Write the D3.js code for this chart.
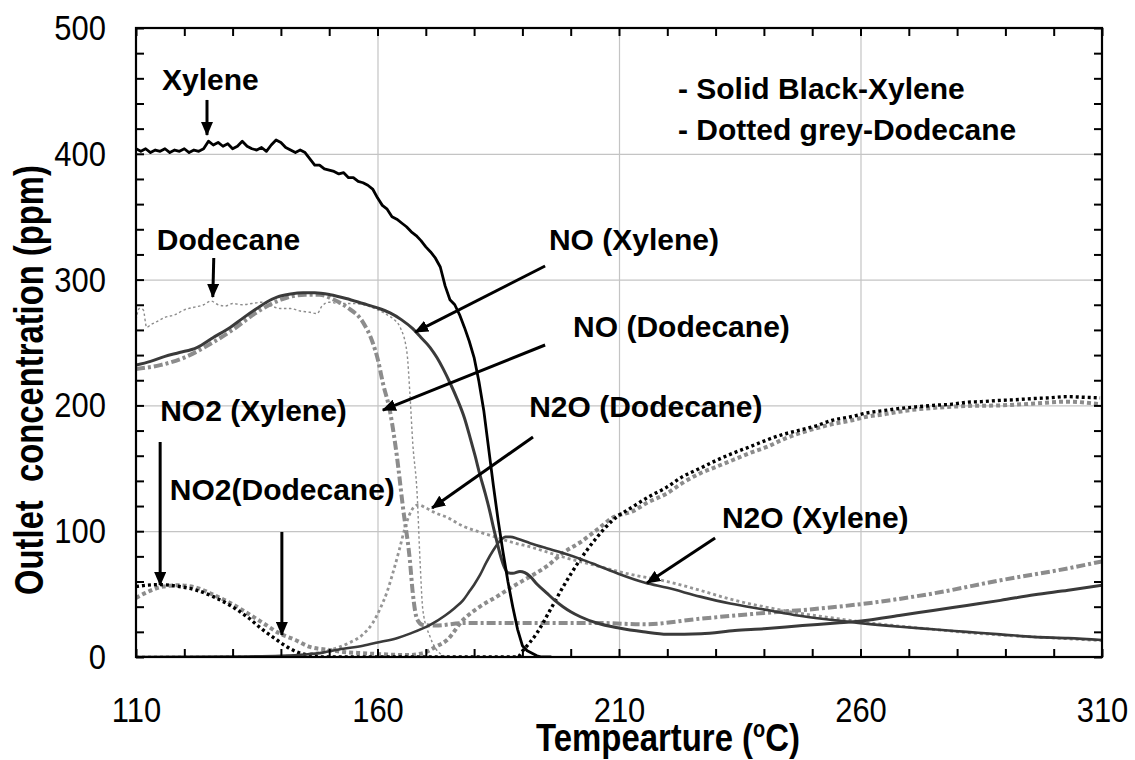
<!DOCTYPE html>
<html>
<head>
<meta charset="utf-8">
<script src="https://cdn.jsdelivr.net/npm/d3@7"></script>
<style>
  body { margin: 0; background: #fff; }
  svg { display: block; }
  .narrow { font-family: "Liberation Sans Narrow", "Arial Narrow", "Liberation Sans", Arial, sans-serif; }
  .bold { font-family: "Liberation Sans", Arial, sans-serif; font-weight: bold; }
</style>
</head>
<body>
<svg id="chart" width="1135" height="760"></svg>
<script>
// ---- axis ticks ----
const temperatureTicks = [110, 160, 210, 260, 310];
const concentrationTicks = [0, 100, 200, 300, 400, 500];
const temperatureGrid = [160, 210, 260];
const concentrationGrid = [100, 200, 300, 400];

// ---- series: [temperature (°C), concentration (ppm)] ----
// Xylene feed (dark lines)
const hcXylene = [[110,404],[111,402],[112,404],[113,401],[114,403],[115,402],[116,404],[117,401],[118,403],[119,402],[120,404],[121,401],[122,403],[123,402],[124,404],[125,410],[126,407],[127,409],[128,406],[129,408],[130,404],[131,406],[132,410],[133,406],[134,404],[135,403],[136,405],[137,402],[138,407],[139,411],[140,409],[141,405],[142,403],[143,401],[144,403],[145,401],[146,396],[147,391],[148,391],[149,388],[150,387],[151,386],[152,384],[153,385],[154,381],[155,381],[156,378],[157,377],[158,375],[159,372],[160,365],[161,359],[162,356],[163,350],[164,348],[165,345],[166,342],[167,338],[168,335],[169,331],[170,326],[171,322],[172,317],[173,310],[174,295],[175,284],[176,280],[177,272],[178,262],[179,251],[180,238],[181,219],[182,196],[183,166],[184,136],[185,108],[186,83],[187,60],[188,40],[189,22],[190,9],[191,5],[192,3],[193,1],[194,0],[196,0]];
const noXylene = [[110,232],[113,235],[116,239],[119,242],[122.6,246],[126,254],[129.5,262],[132,269],[135,277],[137,282],[139.2,286],[142,288.5],[144.6,289.5],[147,289.5],[150.2,288],[153.5,285],[157,281],[160,277.5],[162.6,273.5],[165,268],[167.3,261],[169,254],[170.9,246],[172.3,238],[173.6,229],[175,218],[176.5,205],[178,190],[179.2,174],[180.2,160],[181.2,145],[182.3,130],[183.3,115],[184,103],[184.7,92],[185.5,80],[186.3,71],[187,67],[188,66.5],[189.5,68],[190.5,67],[191.6,64],[193,58],[195,51],[196.7,45],[198.4,40],[200,36],[202,32],[205.4,27],[210,23],[215,20],[220,18],[227,18.5],[234,21],[240,22.5],[248,25],[255,27],[261,29],[268,33],[275,37],[282,41],[289,45],[296,49.5],[303,53],[310,57]];
const n2oXylene = [[110,0],[130,0.3],[140,1],[145,2],[148.7,3.5],[152,6],[157,9],[160,11.5],[164,15],[167,19],[170.9,25.5],[174,33],[176,39],[177.7,45],[179,52],[180,57.5],[181.2,65],[182.5,75],[184,85],[185.4,92.5],[186.5,95.5],[187.5,95.5],[189,94],[191.6,90.5],[195,86.5],[198.4,82.7],[202,78],[205.4,73],[210,66],[215.4,59],[220,55],[226.8,48],[233,42.5],[240.6,37.4],[247,33],[254.3,29.4],[261,26.5],[268.2,24],[275,22],[282,20],[289,18],[295.7,16],[303,15],[310,13.5]];
const no2Xylene = [[110,56],[112,57],[115,57.5],[119,56],[122.6,53],[126,48],[129.5,41],[133,32],[136.3,21.5],[139.2,13.5],[141.3,8],[143.3,4],[146.6,1],[149,0],[189,0],[190.1,5],[193,19],[195.7,37],[198.4,55.6],[201.9,77],[205.4,95],[208.8,109],[212.9,119.5],[216,127],[219.9,135],[223,143],[226.8,150],[230,156],[233.6,162],[237,167],[240.6,172.5],[244,177],[247.5,180.4],[251,184],[254,188],[258,191],[261.3,194],[265,196],[268,197.5],[272,199],[275,200],[279,201],[282,202.5],[285,203],[288.9,204],[292,204.5],[296,205.5],[299,206],[302.8,207],[306,206.5],[309.6,206]];

// Dodecane feed (grey lines)
const hcDodecane = [[110,268],[110.7,277],[111.5,276],[112.2,262],[113,264],[114.5,267],[116,270],[118,272],[120,276],[122,278],[124,280],[125.5,283],[127,280],[128.5,279],[130,281],[132,280],[134,281],[136,282],[138,279],[140,277],[142,277],[144,275],[146,274],[147.5,273],[148.5,279],[150,282],[152,281],[155,281],[158,279],[160,276],[162,272],[163.5,268],[164.7,262],[166.1,242],[166.7,210],[167.3,170],[168.2,130],[168.8,77],[169.4,37],[170.9,16],[172.9,3],[175,0],[200,0]];
const noDodecane = [[110,229],[115,232],[120,238],[125,248],[130,260],[135,274],[140,284],[145,288],[148,288],[151,284],[153.7,278],[157,266],[159,250],[160.1,236],[161.1,218],[162.6,195],[164,160],[165.3,118],[166.7,77],[167.3,51],[168.2,30],[169.4,25.5],[172,25],[178,27],[190,27],[200,27],[206,27],[215,26],[227,30.5],[240,35],[250,38],[260,42],[275,50.5],[289,61],[303,70.5],[310,76]];
const n2oDodecane = [[110,0],[140,0.5],[145,2],[150.2,5.6],[154,11],[157,18],[159,27],[160.5,38],[162,52],[163.2,67],[164.5,85],[165.5,100],[166.5,112],[167.5,119],[168.5,121],[170,118.5],[172,114.5],[174.4,111],[177.7,104],[180.6,100],[184.7,95],[188,91],[191.6,87.5],[198.4,79.5],[205.4,72.5],[212,66],[220,60],[226.8,53],[233,46],[240.6,39.5],[247,35],[254.3,31],[261,27.5],[268.2,24.5],[275,22],[282,19.5],[289,17.5],[295.7,16],[303,14.5],[310,13]];
const no2Dodecane = [[110,47],[112,51],[115.6,56],[119,57],[122.6,55],[126,49.5],[129.5,43],[133,35],[136.3,27],[139.6,19],[143,13.5],[146,8],[150,5.6],[153,4],[157,3],[162,2],[166,1.5],[169.4,3],[172,8],[174.4,13.5],[177.7,29.4],[181.2,40],[184.7,48],[188,56],[191.6,64],[195,72],[198.4,82.7],[201.9,91],[205.4,101],[208.8,111],[212.9,116],[216,123],[219.9,130],[223,138],[226.8,146],[230,151],[233.6,156.6],[237,162],[240.6,167],[244,173],[247.5,178],[251,182],[254,185],[258,188],[261.3,191],[265,193],[268,195],[272,197],[275,198],[282,199.5],[288.9,200],[296,201.5],[302.8,203],[309.6,201]];

// ---- annotations, in data units ----
const labelTexts = ["Xylene", "Dodecane", "NO2 (Xylene)", "NO2(Dodecane)", "NO (Xylene)", "NO (Dodecane)", "N2O (Dodecane)", "N2O (Xylene)"];
const labelAnchors = [[115.4,450.7],[114.3,323.5],[115,187.6],[117,124.8],[195.5,323.5],[200.5,254.4],[191.4,190.8],[231.3,102.5]];
const arrowStarts = [[124.7,442.8],[126.1,317.2],[194.7,310.8],[194.7,248],[192.2,174.9],[115,170.9],[140.2,99.4],[229.9,94.6]];
const arrowEnds   = [[124.7,415],[125.9,286.2],[167.8,258.3],[161.1,196.3],[171.3,118.4],[115,57.2],[140.2,17.5],[215.8,58.8]];
const noteLines = ["- Solid Black-Xylene", "- Dotted grey-Dodecane"];
const noteAnchors = [[222.2,443.6],[222.2,411]];

// ---- layout ----
const margin = { left: 136, top: 28, right: 1102, bottom: 657 };
const svg = d3.select("#chart");
const x = d3.scaleLinear().domain([110, 310]).range([margin.left, margin.right]);
const y = d3.scaleLinear().domain([0, 500]).range([margin.bottom, margin.top]);
const plotW = margin.right - margin.left;
const plotH = margin.bottom - margin.top;
const condense = 0.86;   // horizontal squeeze for the narrow axis lettering

svg.append("rect").attr("width", 1135).attr("height", 760).attr("fill", "#fff");

// gridlines
const grid = svg.append("g");
grid.append("g")
  .attr("transform", `translate(0,${margin.bottom})`)
  .call(d3.axisBottom(x).tickValues(temperatureGrid).tickSize(-plotH).tickFormat(""))
  .call(g => g.select(".domain").remove())
  .call(g => g.selectAll("line").attr("stroke", "#c4c4c4").attr("stroke-width", 1.2));
grid.append("g")
  .attr("transform", `translate(${margin.left},0)`)
  .call(d3.axisLeft(y).tickValues(concentrationGrid).tickSize(-plotW).tickFormat(""))
  .call(g => g.select(".domain").remove())
  .call(g => g.selectAll("line").attr("stroke", "#c4c4c4").attr("stroke-width", 1.2));

// clip for the series
svg.append("defs").append("clipPath").attr("id", "plotClip")
  .append("rect").attr("x", margin.left).attr("y", margin.top).attr("width", plotW).attr("height", plotH);

const smooth = d3.line().x(d => x(d[0])).y(d => y(d[1])).curve(d3.curveMonotoneX);
const jagged = d3.line().x(d => x(d[0])).y(d => y(d[1]));

const series = [
  { data: hcDodecane,  path: smooth, stroke: "#8c8c8c", width: 1.4, dash: "2.5,2.5" },
  { data: no2Dodecane, path: smooth, stroke: "#8c8c8c", width: 4,   dash: "4,3" },
  { data: n2oDodecane, path: smooth, stroke: "#959595", width: 2.8, dash: "3,3" },
  { data: noDodecane,  path: smooth, stroke: "#8c8c8c", width: 4,   dash: "9,3,3,3" },
  { data: no2Xylene,   path: smooth, stroke: "#000",    width: 3.4, dash: "3,3" },
  { data: n2oXylene,   path: smooth, stroke: "#3a3a3a", width: 2.6, dash: null },
  { data: noXylene,    path: smooth, stroke: "#3a3a3a", width: 3,   dash: null },
  { data: hcXylene,    path: jagged, stroke: "#000",    width: 2.8, dash: null }
];

const lines = svg.append("g").attr("clip-path", "url(#plotClip)");
series.forEach(s => {
  lines.append("path")
    .attr("d", s.path(s.data))
    .attr("fill", "none")
    .attr("stroke", s.stroke)
    .attr("stroke-width", s.width)
    .attr("stroke-linejoin", "round")
    .attr("stroke-dasharray", s.dash);
});

// frame with inward minor ticks on all four sides
const minorX = d3.range(110, 311, 10);
const minorY = d3.range(0, 501, 20);
const styleTicks = g => {
  g.select(".domain").remove();
  g.selectAll("line").attr("stroke", "#000").attr("stroke-width", 2);
};
svg.append("g").attr("transform", `translate(0,${margin.bottom})`)
  .call(d3.axisBottom(x).tickValues(minorX).tickSize(-8).tickFormat("")).call(styleTicks);
svg.append("g").attr("transform", `translate(0,${margin.top})`)
  .call(d3.axisTop(x).tickValues(minorX).tickSize(-8).tickFormat("")).call(styleTicks);
svg.append("g").attr("transform", `translate(${margin.left},0)`)
  .call(d3.axisLeft(y).tickValues(minorY).tickSize(-8).tickFormat("")).call(styleTicks);
svg.append("g").attr("transform", `translate(${margin.right},0)`)
  .call(d3.axisRight(y).tickValues(minorY).tickSize(-8).tickFormat("")).call(styleTicks);
svg.append("rect")
  .attr("x", margin.left).attr("y", margin.top).attr("width", plotW).attr("height", plotH)
  .attr("fill", "none").attr("stroke", "#000").attr("stroke-width", 2.2);

// tick labels (condensed lettering)
svg.append("g").attr("transform", `translate(0,${margin.bottom})`)
  .call(d3.axisBottom(x).tickValues(temperatureTicks).tickSize(0).tickPadding(39))
  .call(g => g.select(".domain").remove())
  .call(g => g.selectAll("text")
    .attr("class", "narrow").attr("font-size", 36).attr("fill", "#000")
    .attr("transform", `scale(${condense},1)`));
svg.append("g").attr("transform", `translate(${margin.left},0)`)
  .call(d3.axisLeft(y).tickValues(concentrationTicks).tickSize(0).tickPadding(30))
  .call(g => g.select(".domain").remove())
  .call(g => g.selectAll("text")
    .attr("class", "narrow").attr("font-size", 36).attr("fill", "#000")
    .attr("x", -30 / condense)
    .attr("transform", `scale(${condense},1)`));

// axis titles, squeezed to their printed width
function fitWidth(sel, width) {
  const w = sel.node().getBBox().width;
  return width / w;
}
const xTitleG = svg.append("g");
const xTitle = xTitleG.append("text")
  .attr("class", "narrow")
  .attr("text-anchor", "middle")
  .attr("font-size", 38).attr("font-weight", "bold");
xTitle.append("tspan").text("Tempearture (");
xTitle.append("tspan").attr("font-size", 23).attr("dy", -14).text("o");
xTitle.append("tspan").attr("dy", 14).text("C)");
xTitleG.attr("transform", `translate(668,751) scale(${fitWidth(xTitle, 264)},1)`);

const yTitleG = svg.append("g");
const yTitle = yTitleG.append("text")
  .attr("class", "narrow")
  .attr("text-anchor", "middle")
  .attr("font-size", 40).attr("font-weight", "bold")
  .style("white-space", "pre")
  .text("Outlet  concentration (ppm)");
yTitleG.attr("transform", `translate(43,380) rotate(-90) scale(${fitWidth(yTitle, 430)},1)`);

// arrows
svg.append("defs").append("marker")
  .attr("id", "head")
  .attr("markerUnits", "userSpaceOnUse")
  .attr("viewBox", "0 0 14 12")
  .attr("markerWidth", 14).attr("markerHeight", 12)
  .attr("refX", 13).attr("refY", 6)
  .attr("orient", "auto")
  .append("path").attr("d", "M0,0 L14,6 L0,12 Z").attr("fill", "#000");

const arrows = svg.append("g");
arrowStarts.forEach((s, i) => {
  const e = arrowEnds[i];
  arrows.append("line")
    .attr("x1", x(s[0])).attr("y1", y(s[1]))
    .attr("x2", x(e[0])).attr("y2", y(e[1]))
    .attr("stroke", "#000").attr("stroke-width", 3)
    .attr("marker-end", "url(#head)");
});

// series labels
const labels = svg.append("g").attr("class", "bold").attr("font-size", 30).attr("fill", "#000");
labelTexts.forEach((t, i) => {
  labels.append("text")
    .attr("x", x(labelAnchors[i][0])).attr("y", y(labelAnchors[i][1]))
    .text(t);
});

// legend note
noteLines.forEach((t, i) => {
  labels.append("text")
    .attr("x", x(noteAnchors[i][0])).attr("y", y(noteAnchors[i][1]))
    .text(t);
});
</script>
</body>
</html>
